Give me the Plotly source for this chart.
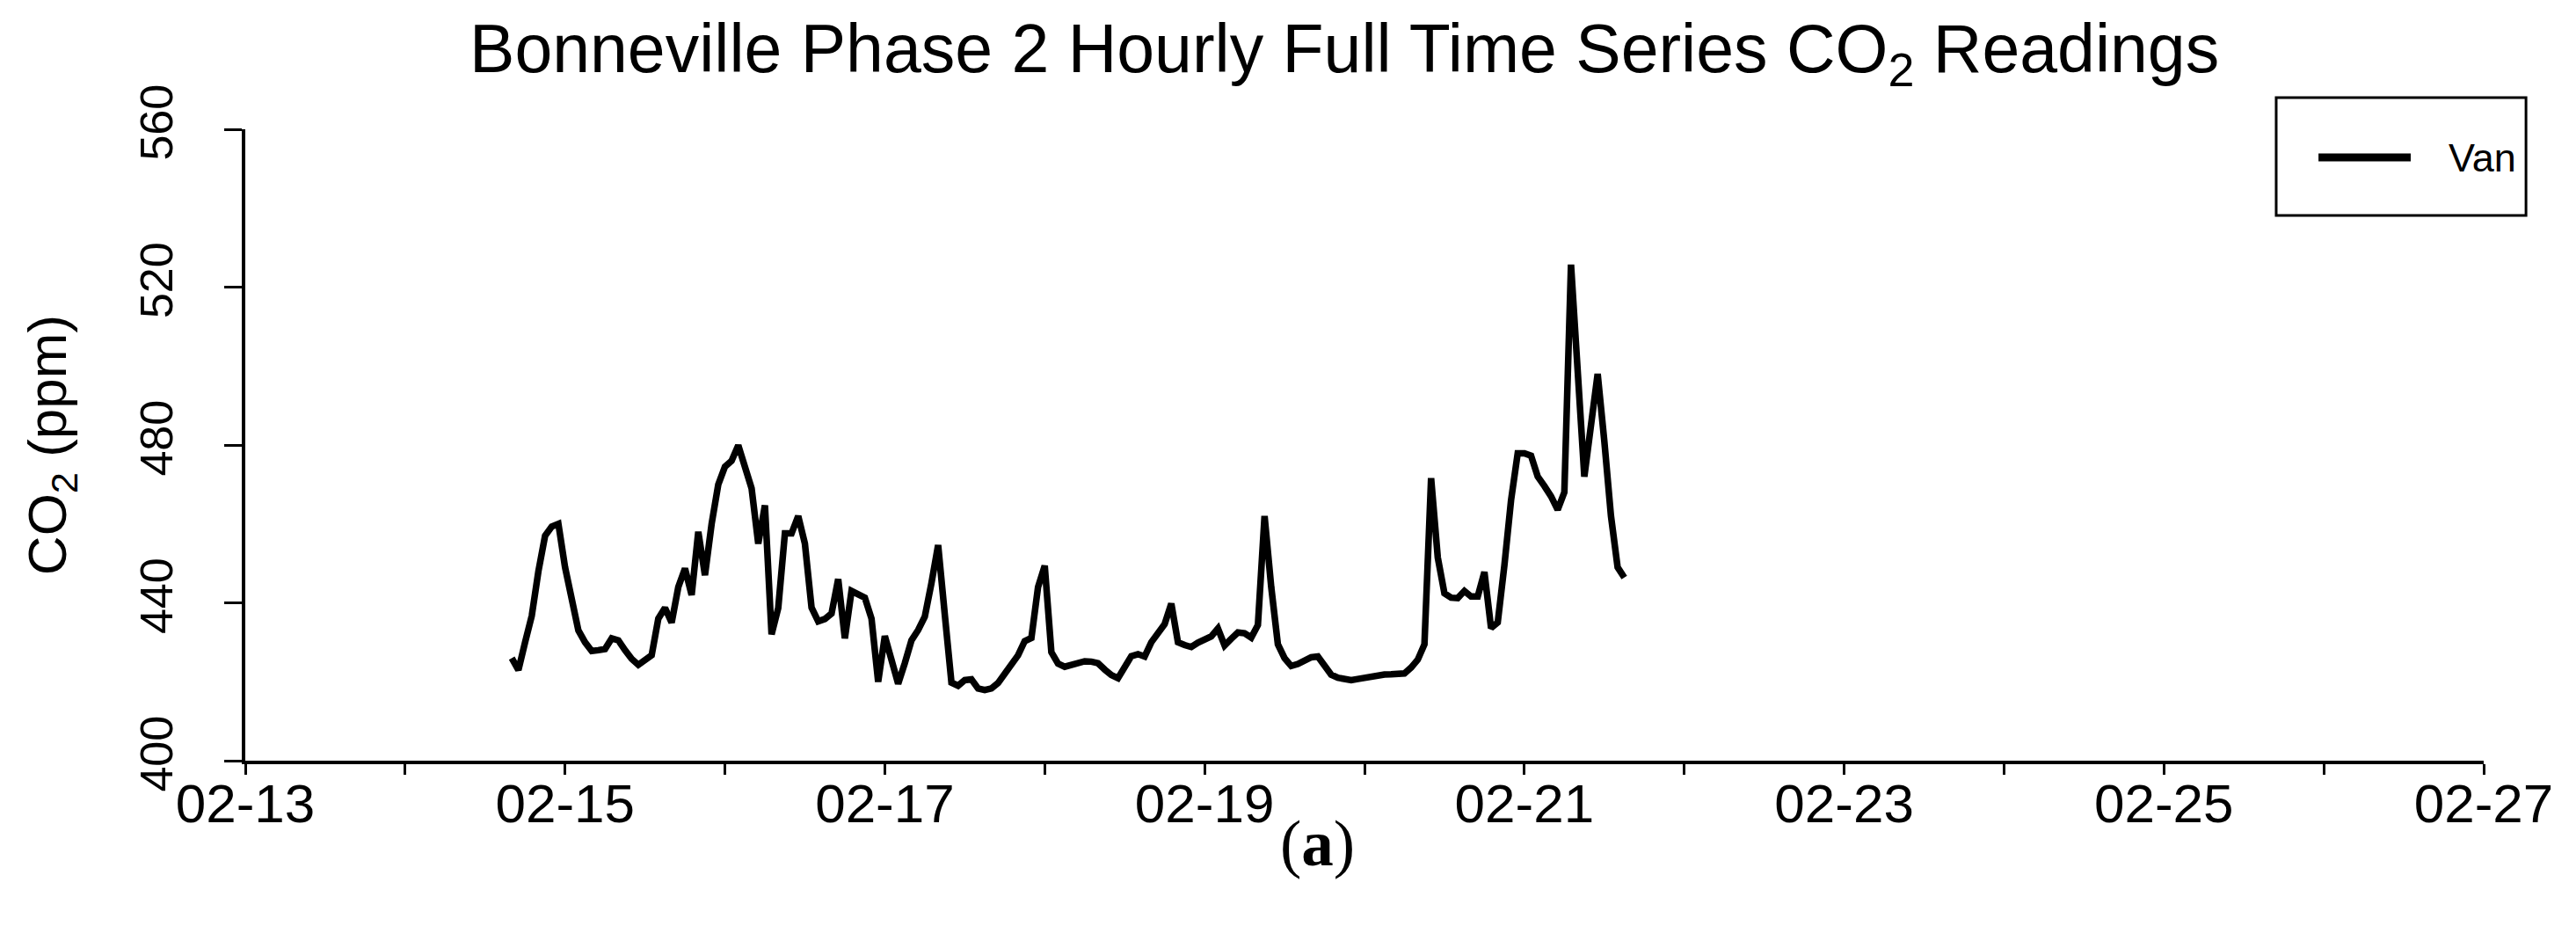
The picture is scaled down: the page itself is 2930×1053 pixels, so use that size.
import plotly.graph_objects as go
import pandas as pd

# ---- data (hourly CO2 readings, Van) ----
start_time = "2019-02-14 16:00"
co2_van = [
    426, 423, 430, 436.7, 448, 457, 459.3, 460,
    449, 440, 433, 430, 427.8, 428, 428.3, 431, 430.5, 428,
    425.8, 424.3, 425.7, 426.7, 436, 438.7, 435, 444, 448.7, 442,
    458, 447, 460, 470, 474.5, 476, 479.9, 475, 469, 455,
    464.7, 432, 438.7, 457.6, 457.6, 462, 455, 438.8, 435.3, 435.9,
    437.3, 446, 431, 443, 442, 441.3, 436, 420, 431.6, 425.7,
    419.5, 424.7, 430.5, 433.1, 436.5, 445, 454.6, 437, 419.8, 419,
    420.4, 420.6, 418.3, 417.9, 418.3, 419.7, 422.2, 424.6, 426.7, 430.3,
    431.1, 444, 449.4, 427.5, 424.6, 423.8, 424.4, 425, 425.2, 425.1,
    424.7, 423.1, 421.7, 420.9, 424, 426.5, 427, 426.4, 430, 432.3,
    434.6, 439.8, 430, 429.3, 428.8, 429.9, 430.7, 431.5, 433.5, 429.2,
    430.9, 432.5, 432.3, 431.2, 434.4, 462, 444, 429.5, 426, 424,
    424.5, 425.2, 426.2, 426.4, 424.1, 421.8, 421, 420.7, 420.4, 420.7,
    421, 421.4, 421.8, 421.85, 421.9, 422, 422.1, 423.6, 425.6, 429.5,
    471.6, 451.5, 442.4, 441.3, 441.2, 443, 441.6, 441.6, 447.8, 433.6,
    435, 449.5, 466, 477.9, 477.9, 477.3, 472, 469.6, 467, 463.6,
    468, 525.7, 498.5, 472, 485, 498, 481, 462, 449, 446.4,
]
times = pd.date_range(start_time, periods=len(co2_van), freq="h")

y_ticks = [400, 440, 480, 520, 560]
y_range = [400, 560]
x_range = ["2019-02-13", "2019-02-27"]
series_name = "Van"

FONT = "Liberation Sans, Arial, Helvetica, sans-serif"
SERIF = "Liberation Serif, Times New Roman, serif"
DAY_MS = 86400000

fig = go.Figure()
fig.add_trace(go.Scatter(
    x=times, y=co2_van, mode="lines", name=series_name,
    line=dict(color="black", width=7.5), showlegend=False,
))

fig.update_layout(
    width=2930, height=1053,
    margin=dict(l=271, r=113, t=139, b=196, autoexpand=False),
    paper_bgcolor="white", plot_bgcolor="white",
    font=dict(family=FONT, color="black"),
    title=dict(
        text="Bonneville Phase 2 Hourly Full Time Series CO<sub>2</sub> Readings",
        x=0.491, xref="paper", xanchor="center",
        y=1 - 47 / 1053, yref="container", yanchor="middle",
        font=dict(family=FONT, size=77, color="black"),
    ),
)

fig.update_xaxes(
    type="date", range=x_range, tickformat="%m-%d",
    tick0="2019-02-13", dtick=2 * DAY_MS,
    ticks="outside", ticklen=12, tickwidth=3, tickcolor="black",
    showline=True, linewidth=4, linecolor="black",
    showgrid=False, zeroline=False, ticklabelstandoff=-20,
    tickfont=dict(family=FONT, size=62, color="black"),
    minor=dict(tick0="2019-02-13", dtick=DAY_MS, ticks="outside", ticklen=12,
               tickwidth=3, tickcolor="black", showgrid=False),
)

fig.update_yaxes(
    range=y_range, tickvals=y_ticks,
    ticks="outside", ticklen=20, tickwidth=3, tickcolor="black",
    showline=True, linewidth=4, linecolor="black",
    showgrid=False, zeroline=False,
    tickangle=-90, ticklabelstandoff=38,
    tickfont=dict(family=FONT, size=52, color="black"),
    title=dict(text="CO<sub>2</sub> (ppm)", standoff=55,
               font=dict(family=FONT, size=62, color="black")),
)

# legend box (drawn to match the original's long line sample)
fig.add_shape(type="rect", xref="paper", yref="paper",
              x0=0.9073, x1=1.0189, y0=0.8635, y1=1.0501,
              line=dict(color="black", width=3), fillcolor="white", layer="above")
fig.add_shape(type="line", xref="paper", yref="paper",
              x0=0.9262, x1=0.9674, y0=0.9554, y1=0.9554,
              line=dict(color="black", width=9), layer="above")
fig.add_annotation(text=series_name, xref="paper", yref="paper",
                   x=0.9835, y=0.9554, xanchor="left", yanchor="middle",
                   showarrow=False, font=dict(family=FONT, size=45, color="black"))

# panel label
fig.add_annotation(text="(<b>a</b>)", xref="paper", yref="paper",
                   x=0.4788, y=-0.1323, xanchor="center", yanchor="middle",
                   showarrow=False, font=dict(family=SERIF, size=73, color="black"))

fig.write_html("out.html")
